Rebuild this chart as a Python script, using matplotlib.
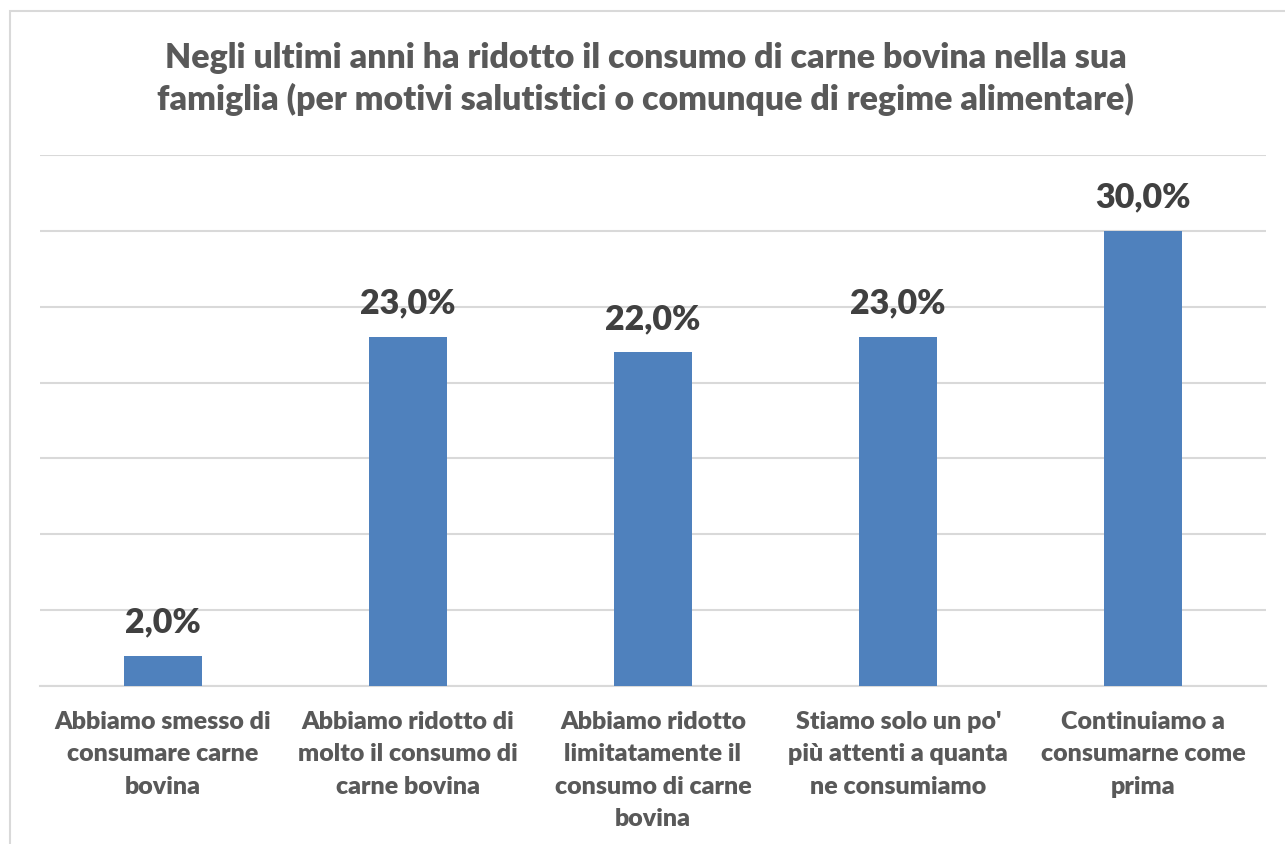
import matplotlib
matplotlib.use("Agg")
import matplotlib.pyplot as plt
from matplotlib.patches import Rectangle

categories = [
    "Abbiamo smesso di\nconsumare carne\nbovina",
    "Abbiamo ridotto di\nmolto il consumo di\ncarne bovina",
    "Abbiamo ridotto\nlimitatamente il\nconsumo di carne\nbovina",
    "Stiamo solo un po'\npiù attenti a quanta\nne consumiamo",
    "Continuiamo a\nconsumarne come\nprima",
]
values = [2.0, 23.0, 22.0, 23.0, 30.0]
title = ("Negli ultimi anni ha ridotto il consumo di carne bovina nella sua\n"
         "famiglia (per motivi salutistici o comunque di regime alimentare)")

plt.rcParams['font.family'] = ['Lato', 'DejaVu Sans']

W, H = 1285, 844
fig = plt.figure(figsize=(W / 100, H / 100), dpi=100)

# chart border
fig.patches.append(Rectangle((10 / W, -0.1), 1.2, (H - 11) / H + 0.1,
                             transform=fig.transFigure, fill=False,
                             edgecolor='#d9d9d9', linewidth=1.5, zorder=0))

ax = fig.add_axes([40 / W, (H - 686) / H, (1266 - 40) / W, (686 - 155) / H])
x = list(range(len(categories)))
ax.bar(x, values, width=0.318, color='#4f81bd', zorder=3)
ax.set_xlim(-0.5, len(categories) - 0.5)
ax.set_ylim(0, 35)
ax.set_yticks([0, 5, 10, 15, 20, 25, 30, 35])
ax.yaxis.grid(True, color='#d9d9d9', linewidth=1.5, zorder=0)
ax.set_yticklabels([])
ax.tick_params(axis='y', length=0)
ax.tick_params(axis='x', length=0, pad=18)
ax.set_xticks(x)
ax.set_xticklabels(categories, fontsize=18, fontweight='heavy', color='#595959',
                   linespacing=1.58, va='top')
for s in ['top', 'right', 'left']:
    ax.spines[s].set_visible(False)
ax.spines['bottom'].set_color('#d9d9d9')
ax.spines['bottom'].set_linewidth(1.5)

for xi, v in zip(x, values):
    ax.annotate(f"{v:.1f}%".replace('.', ','), (xi, v), xytext=(0, 24),
                textcoords='offset points', ha='center', va='center',
                fontsize=24.5, fontweight='heavy', color='#404040')

fig.text(0.5 + 3 / W, 1 - 79 / H, title, ha='center', va='center',
         fontsize=24.4, fontweight='heavy', color='#595959', linespacing=1.32)

fig.savefig('out.png', dpi=100, facecolor='white')
